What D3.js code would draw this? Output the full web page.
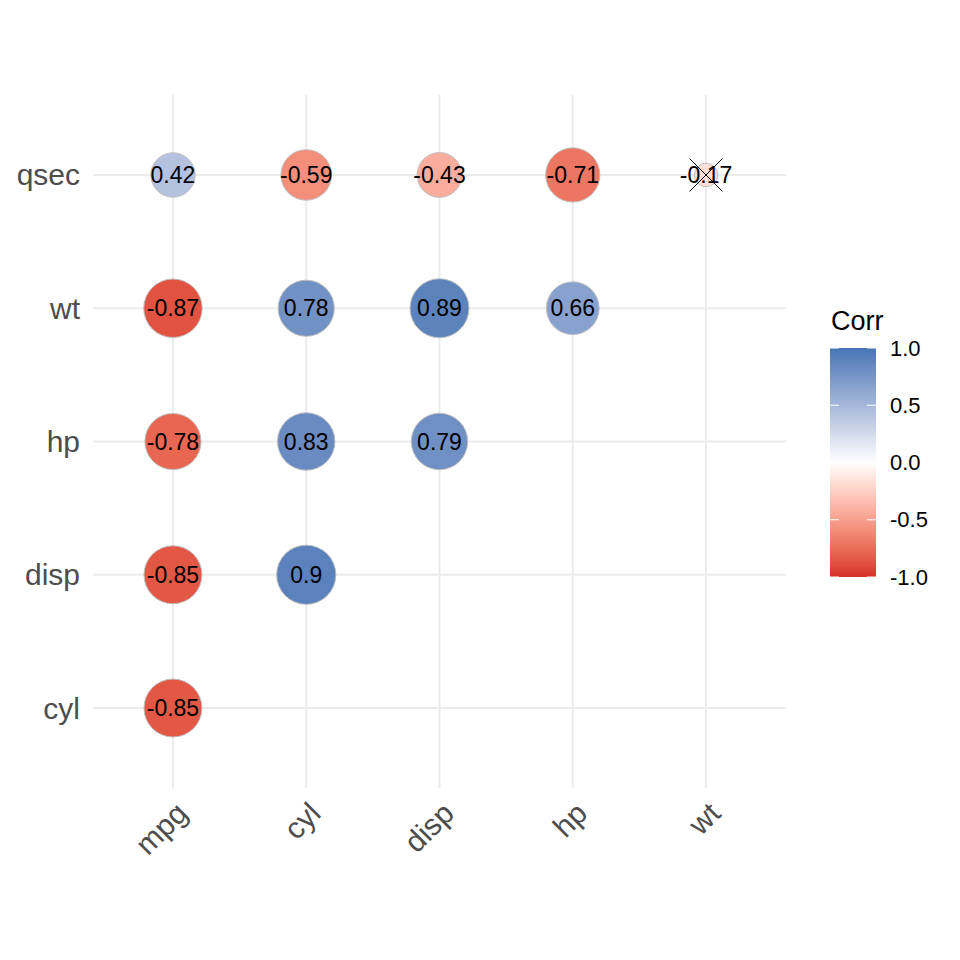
<!DOCTYPE html>
<html>
<head>
<meta charset="utf-8">
<script src="https://cdn.jsdelivr.net/npm/d3@7"></script>
<style>
  body { margin: 0; background: #fff; }
  text { font-family: "Liberation Sans", Arial, sans-serif; }
</style>
</head>
<body>
<div id="chart"></div>
<script>
// variables on each axis
const xVars = ["mpg", "cyl", "disp", "hp", "wt"];
const yVars = ["cyl", "disp", "hp", "wt", "qsec"];

// lower triangle of the correlation matrix: [row, column, value]
const corrCells = [
  ["cyl", "mpg", -0.85],
  ["disp", "mpg", -0.85], ["disp", "cyl", 0.9],
  ["hp", "mpg", -0.78], ["hp", "cyl", 0.83], ["hp", "disp", 0.79],
  ["wt", "mpg", -0.87], ["wt", "cyl", 0.78], ["wt", "disp", 0.89], ["wt", "hp", 0.66],
  ["qsec", "mpg", 0.42], ["qsec", "cyl", -0.59], ["qsec", "disp", -0.43], ["qsec", "hp", -0.71], ["qsec", "wt", -0.17]
];
// cells that are not significant (crossed out)
const insigCells = [["qsec", "wt"]];

const legendTicks = [-1, -0.5, 0, 0.5, 1];

const data = corrCells.map(([row, col, value]) => ({ row, col, value }));

const width = 960, height = 960;
const panel = { left: 93, right: 786, top: 95, bottom: 788 };

const svg = d3.select("#chart")
  .append("svg")
  .attr("width", width)
  .attr("height", height);

svg.append("rect").attr("width", width).attr("height", height).attr("fill", "#fff");

const x = d3.scalePoint()
  .domain(xVars)
  .range([panel.left, panel.right])
  .padding(0.6);

const y = d3.scalePoint()
  .domain(yVars)
  .range([panel.bottom, panel.top])
  .padding(0.6);

// fill: low red, mid white, high blue (Lab interpolation like ggplot's gradient2)
const fill = d3.scaleLinear()
  .domain([-1, 0, 1])
  .range(["#D73027", "#FFFFFF", "#4575B4"])
  .interpolate(d3.interpolateLab);

// size: area scale on |r|
const absExtent = d3.extent(data, (d) => Math.abs(d.value));
const sizeT = d3.scaleLinear().domain(absExtent).range([0, 1]);
const radius = d3.scaleSqrt().domain([0, 1]).range([11.7, 29.6]);

// grid lines
const grid = svg.append("g").attr("stroke", "#EBEBEB").attr("stroke-width", 2);
grid.selectAll(".vgrid")
  .data(xVars)
  .enter()
  .append("line")
  .attr("x1", (d) => x(d)).attr("x2", (d) => x(d))
  .attr("y1", panel.top).attr("y2", panel.bottom);
grid.selectAll(".hgrid")
  .data(yVars)
  .enter()
  .append("line")
  .attr("x1", panel.left).attr("x2", panel.right)
  .attr("y1", (d) => y(d)).attr("y2", (d) => y(d));

// circles
svg.append("g")
  .selectAll("circle")
  .data(data)
  .enter()
  .append("circle")
  .attr("cx", (d) => x(d.col))
  .attr("cy", (d) => y(d.row))
  .attr("r", (d) => radius(sizeT(Math.abs(d.value))))
  .attr("fill", (d) => fill(d.value))
  .attr("stroke", "#BEBEBE")
  .attr("stroke-width", 1);

// labels
svg.append("g")
  .selectAll("text")
  .data(data)
  .enter()
  .append("text")
  .attr("x", (d) => x(d.col))
  .attr("y", (d) => y(d.row))
  .attr("text-anchor", "middle")
  .attr("dominant-baseline", "central")
  .attr("font-size", 23)
  .attr("fill", "#000")
  .text((d) => String(d.value));

// crosses on insignificant cells
const cross = svg.append("g").attr("stroke", "#000").attr("stroke-width", 1);
insigCells.forEach(([row, col]) => {
  const cx = x(col), cy = y(row), h = 16.5;
  cross.append("line").attr("x1", cx - h).attr("y1", cy - h).attr("x2", cx + h).attr("y2", cy + h);
  cross.append("line").attr("x1", cx - h).attr("y1", cy + h).attr("x2", cx + h).attr("y2", cy - h);
});

// y axis labels
svg.append("g")
  .selectAll("text")
  .data(yVars)
  .enter()
  .append("text")
  .attr("x", panel.left - 13)
  .attr("y", (d) => y(d))
  .attr("text-anchor", "end")
  .attr("dominant-baseline", "central")
  .attr("font-size", 30)
  .attr("fill", "#4D4D4D")
  .text((d) => d);

// x axis labels, rotated 45
svg.append("g")
  .selectAll("text")
  .data(xVars)
  .enter()
  .append("text")
  .attr("transform", (d) => `translate(${x(d) + 1}, ${panel.bottom + 12}) rotate(-45)`)
  .attr("text-anchor", "end")
  .attr("dy", "0.72em")
  .attr("font-size", 30)
  .attr("fill", "#4D4D4D")
  .text((d) => d);

// legend
const leg = { x: 830, w: 46, top: 348, bottom: 577 };
const legY = d3.scaleLinear().domain([-1, 1]).range([leg.bottom, leg.top]);

const grad = svg.append("defs")
  .append("linearGradient")
  .attr("id", "corrGrad")
  .attr("x1", 0).attr("y1", 1).attr("x2", 0).attr("y2", 0);
grad.selectAll("stop")
  .data(d3.range(0, 1.0001, 0.05))
  .enter()
  .append("stop")
  .attr("offset", (d) => d)
  .attr("stop-color", (d) => fill(-1 + 2 * d));

svg.append("rect")
  .attr("x", leg.x)
  .attr("y", leg.top)
  .attr("width", leg.w)
  .attr("height", leg.bottom - leg.top)
  .attr("fill", "url(#corrGrad)");

const legTicks = svg.append("g").attr("stroke", "#fff").attr("stroke-width", 1);
legendTicks.forEach((t) => {
  legTicks.append("line").attr("x1", leg.x).attr("x2", leg.x + 9).attr("y1", legY(t)).attr("y2", legY(t));
  legTicks.append("line").attr("x1", leg.x + leg.w - 9).attr("x2", leg.x + leg.w).attr("y1", legY(t)).attr("y2", legY(t));
});

svg.append("g")
  .selectAll("text")
  .data(legendTicks)
  .enter()
  .append("text")
  .attr("x", leg.x + leg.w + 14)
  .attr("y", (d) => legY(d))
  .attr("dominant-baseline", "central")
  .attr("font-size", 22)
  .attr("fill", "#000")
  .text((d) => d3.format(".1f")(d).replace("−", "-"));

svg.append("text")
  .attr("x", leg.x + 1)
  .attr("y", 330)
  .attr("font-size", 27)
  .attr("fill", "#000")
  .text("Corr");
</script>
</body>
</html>
